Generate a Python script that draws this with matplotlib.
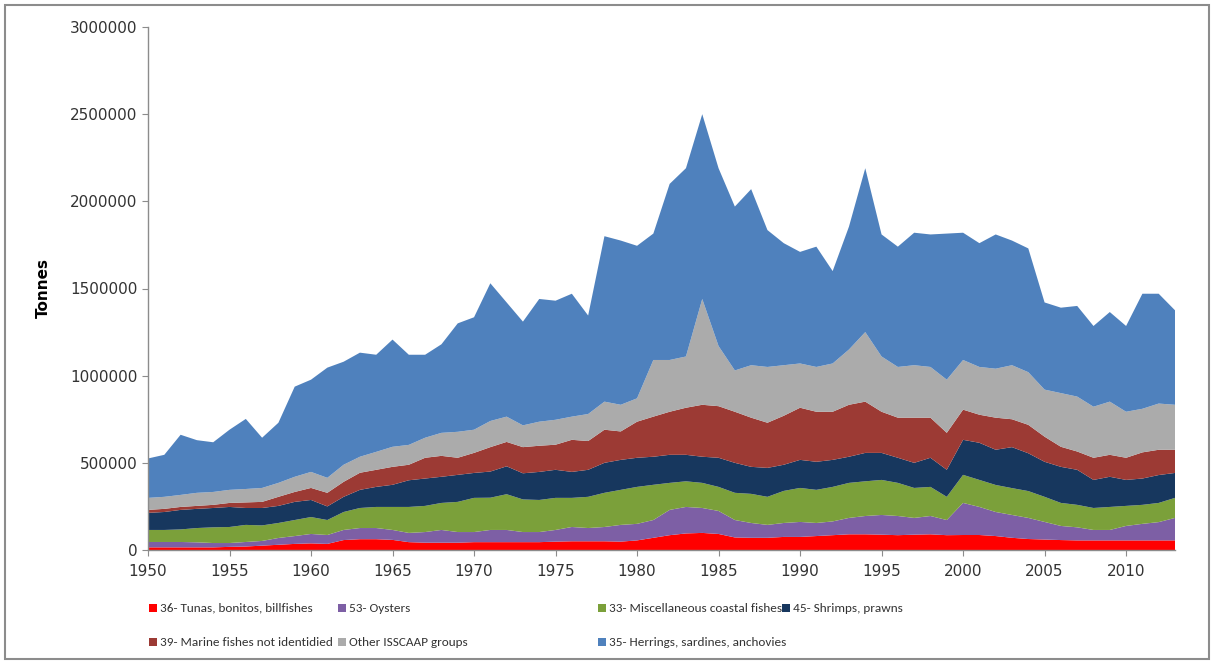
import numpy as np
import matplotlib
matplotlib.use('Agg')
import matplotlib.pyplot as plt
from matplotlib.patches import Rectangle
from matplotlib.ticker import FuncFormatter

# Years on the category axis
years = list(range(1950, 2014))

# Catches per group, in thousand tonnes
tunas = [15, 15, 15, 15, 15, 18, 20, 25, 30, 35,
         38, 35, 57, 62, 62, 58, 45, 42, 42, 42,
         45, 45, 45, 45, 45, 48, 50, 50, 50, 48,
         55, 70, 85, 95, 98, 92, 72, 70, 70, 75,
         75, 80, 85, 90, 90, 88, 85, 88, 90, 85,
         86, 86, 80, 70, 63, 60, 57, 55, 55, 55,
         55, 55, 55, 55]
oysters = [31, 31, 31, 29, 25, 22, 26, 27, 39, 45,
           54, 51, 58, 64, 64, 57, 53, 61, 73, 61,
           58, 70, 70, 58, 58, 67, 82, 76, 82, 96,
           95, 102, 145, 152, 143, 132, 100, 85, 74, 80,
           86, 75, 79, 94, 105, 113, 110, 96, 105, 87,
           184, 161, 138, 131, 121, 101, 81, 75, 60, 60,
           83, 95, 105, 129]
coastal = [69, 69, 72, 82, 90, 92, 98, 89, 86, 92,
           97, 86, 103, 115, 121, 132, 149, 150, 155, 173,
           196, 185, 205, 187, 184, 184, 167, 179, 196, 201,
           212, 202, 155, 147, 144, 138, 156, 167, 161, 184,
           195, 190, 198, 201, 199, 201, 190, 172, 167, 133,
           161, 155, 155, 154, 154, 144, 132, 129, 126, 132,
           115, 109, 110, 115]
shrimps = [98, 103, 112, 110, 111, 115, 97, 100, 98, 104,
           98, 78, 87, 104, 115, 127, 153, 157, 150, 155,
           143, 150, 160, 150, 161, 161, 149, 155, 172, 172,
           167, 161, 161, 152, 150, 167, 172, 155, 166, 150,
           161, 161, 155, 150, 163, 155, 144, 144, 167, 155,
           201, 213, 202, 235, 217, 201, 207, 201, 161, 173,
           149, 151, 160, 143]
marine = [17, 18, 17, 17, 18, 23, 32, 35, 52, 57,
          69, 78, 86, 98, 98, 103, 89, 119, 120, 98,
          115, 140, 140, 150, 150, 144, 184, 165, 190, 163,
          207, 230, 247, 270, 298, 296, 293, 282, 259, 281,
          299, 287, 276, 298, 294, 236, 230, 259, 230, 212,
          173, 161, 184, 160, 163, 144, 115, 105, 127, 126,
          127, 150, 145, 133]
other = [69, 69, 69, 75, 74, 75, 77, 80, 80, 87,
         92, 86, 98, 92, 103, 115, 114, 115, 132, 149,
         133, 150, 145, 125, 138, 143, 133, 155, 161, 153,
         134, 325, 297, 294, 607, 345, 237, 301, 320, 290,
         254, 257, 277, 317, 399, 317, 291, 301, 291, 305,
         285, 274, 281, 310, 302, 270, 308, 315, 293, 305,
         264, 250, 265, 258]
herrings = [226, 241, 345, 302, 285, 345, 402, 288, 345, 517,
            529, 632, 591, 597, 557, 615, 517, 476, 508, 622,
            645, 790, 655, 595, 704, 683, 705, 565, 949, 942,
            875, 725, 1010, 1080, 1060, 1020, 940, 1010, 785, 700,
            640, 690, 530, 705, 940, 700, 690, 760, 760, 838,
            730, 710, 770, 715, 710, 500, 490, 520, 463, 514,
            492, 660, 630, 542]

labels = ['36- Tunas, bonitos, billfishes', '53- Oysters',
          '33- Miscellaneous coastal fishes', '45- Shrimps, prawns',
          '39- Marine fishes not identidied', 'Other ISSCAAP groups',
          '35- Herrings, sardines, anchovies']
colors = ['#FF0000', '#7D5FA5', '#7BA03A', '#17375E',
          '#9C3A34', '#ABABAB', '#4F81BD']

series = [np.array(s) * 1000 for s in
          [tunas, oysters, coastal, shrimps, marine, other, herrings]]

W, H = 1214, 664
fig = plt.figure(figsize=(W / 100, H / 100), dpi=100)
ax = fig.add_axes([148 / W, 1 - 550 / H, (1175 - 148) / W, (550 - 27) / H])

ax.stackplot(years, *series, colors=colors, labels=labels, linewidth=0)

ax.set_xlim(1950, 2013)
ax.set_ylim(0, 3000000)
ax.set_yticks(range(0, 3000001, 500000))
ax.yaxis.set_major_formatter(FuncFormatter(lambda v, p: '%d' % v))
ax.set_xticks(range(1950, 2011, 5))

for side in ['top', 'right']:
    ax.spines[side].set_visible(False)
for side in ['left', 'bottom']:
    ax.spines[side].set_color('#8C8C8C')
    ax.spines[side].set_linewidth(1)
ax.tick_params(direction='out', length=4, color='#8C8C8C',
               labelsize=11, labelcolor='#333333')
ax.tick_params(axis='x', pad=6)
ax.set_ylabel('Tonnes', fontsize=11, fontweight='bold', labelpad=14)

# Legend drawn by hand to get the Excel column layout
legend_font = ['Carlito', 'Lato', 'DejaVu Sans']
cols = [149, 338, 598, 782]
rows = [608, 642]
slots = [(0, 0), (0, 1), (0, 2), (0, 3), (1, 0), (1, 1), (1, 2)]
for (r, c), lab, col in zip(slots, labels, colors):
    x = cols[c]
    y = rows[r]
    fig.add_artist(Rectangle((x / W, 1 - (y + 4) / H), 8 / W, 8 / H,
                             transform=fig.transFigure, color=col, lw=0))
    fig.text((x + 11) / W, 1 - y / H, lab, fontsize=9.5,
             family=legend_font, color='#333333', va='center', ha='left')

# Outer chart border
fig.add_artist(Rectangle((5 / W, 5 / H), 1 - 10 / W, 1 - 10 / H,
                         transform=fig.transFigure, fill=False,
                         edgecolor='#8C8C8C', lw=1.5))

fig.savefig('out.png', dpi=100)
